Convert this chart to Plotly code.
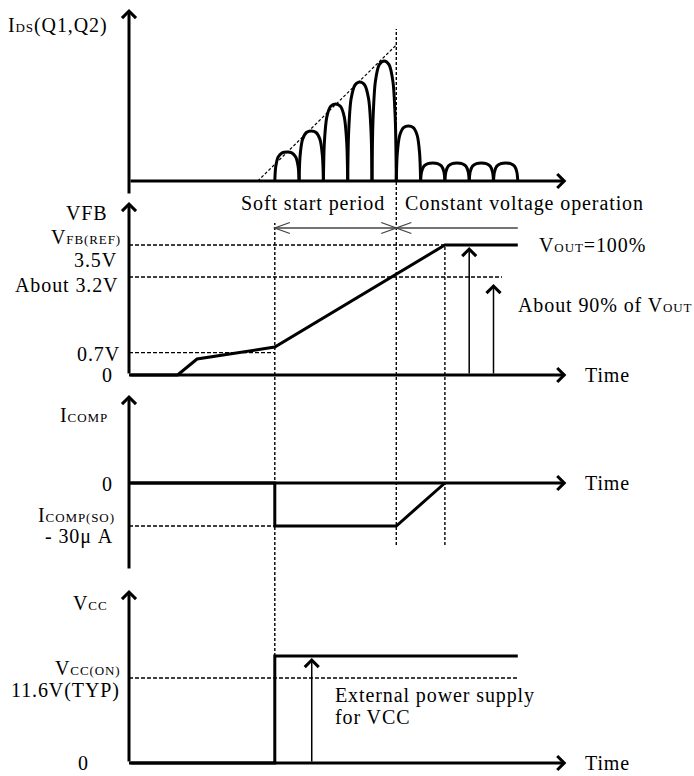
import plotly.graph_objects as go

# ---------------- data (schematic units: time in switching periods, signal levels in arbitrary units)
T_END = 18            # end of time axes (arrow tip)
T_SS_START = 6        # soft start begins (VCC reaches VCC(ON))
T_SS_END = 11         # soft start ends
T_CV = 13             # VFB reaches VFB(REF)
T_LINE_END = 16       # end of drawn waveforms

# I_DS (Q1,Q2) pulses
hump_start = [6, 7, 8, 9, 10, 11, 12, 13, 14, 15]
hump_peak = [2.9, 5.0, 7.7, 9.9, 12.0, 5.5, 1.8, 1.8, 1.8, 1.8]
hump_width = 1.0
hump_profile_x = [0, 0.04, 0.14, 0.3, 0.5, 0.7, 0.86, 0.96, 1]
hump_profile_y = [0, 0.5, 0.83, 0.97, 1, 0.97, 0.83, 0.5, 0]
env_t = [5.3, 11.0]
env_v = [0, 13.6]

# VFB
vfb_t = [0, 2.0, 2.8, 6.0, 13.0, 16.0]
vfb_v = [0, 0, 1.6, 2.8, 13.0, 13.0]
vfb_ref = 13.0
vfb_32 = 9.8
vfb_07 = 2.23
vout100_t, vout100_v = 14.0, 12.8
vout90_t, vout90_v = 15.0, 9.1
ss_arrow_v = 14.7

# ICOMP
icomp_t = [0, 6, 6, 11, 13]
icomp_v = [0, 0, -4.3, -4.3, 0]
icomp_so = -4.3

# VCC
vcc_t = [0, 6, 6, 16]
vcc_v = [0, 0, 10.7, 10.7]
vcc_on = 8.5
ext_t, ext_v = 7.52, 10.5

FONT = "Liberation Serif"
FS = 20
SUB = 13
LS = "letter-spacing:0.9px"


def txt(*parts):
    out = []
    for p in parts:
        if isinstance(p, tuple):
            out.append("<span style='%s;font-size:%dpx'>%s</span>" % (LS, SUB, p[0]))
        else:
            out.append("<span style='%s'>%s</span>" % (LS, p))
    return "".join(out)


fig = go.Figure()

# y-axis ranges/domains for 4 stacked panels
panels = {
    "y": dict(range=[-1.4, 18.1], domain=[0.748711, 1.0]),
    "y2": dict(range=[-1.5, 18.0], domain=[0.497423, 0.748711]),
    "y3": dict(range=[-9.7, 9.3], domain=[0.252577, 0.497423]),
    "y4": dict(range=[-1.3, 18.3], domain=[0.0, 0.252577]),
}

BLK = "black"
thick = dict(color=BLK, width=3)

# ---------------- IDS pulses
hx, hy = [], []
for s, p in zip(hump_start, hump_peak):
    hx += [s + f * hump_width for f in hump_profile_x] + [None]
    hy += [p * f for f in hump_profile_y] + [None]
fig.add_trace(go.Scatter(x=hx, y=hy, mode="lines", yaxis="y",
                         line=dict(color=BLK, width=3, shape="spline", smoothing=0.8),
                         hoverinfo="skip", showlegend=False))
fig.add_trace(go.Scatter(x=env_t, y=env_v, mode="lines", yaxis="y",
                         line=dict(color=BLK, width=1.2, dash="3px,2px"), showlegend=False))

# ---------------- VFB
fig.add_trace(go.Scatter(x=vfb_t, y=vfb_v, mode="lines", yaxis="y2", line=thick, showlegend=False))
# ---------------- ICOMP
fig.add_trace(go.Scatter(x=icomp_t, y=icomp_v, mode="lines", yaxis="y3", line=thick, showlegend=False))
# ---------------- VCC
fig.add_trace(go.Scatter(x=vcc_t, y=vcc_v, mode="lines", yaxis="y4", line=thick, showlegend=False))

shapes = []


def hdash(yref, level, t1, t0=0):
    shapes.append(dict(type="line", xref="x", yref=yref, x0=t0, x1=t1, y0=level, y1=level,
                       line=dict(color=BLK, width=1.3, dash="4px,2px"), layer="below"))


def vdot(yref, t, v0, v1):
    shapes.append(dict(type="line", xref="x", yref=yref, x0=t, x1=t, y0=v0, y1=v1,
                       line=dict(color=BLK, width=1.4, dash="3px,2px"), layer="below"))


# dashed reference levels
hdash("y2", vfb_ref, T_CV)
hdash("y2", vfb_32, 15.35)
hdash("y2", vfb_07, T_SS_START)
hdash("y3", icomp_so, T_SS_START)
hdash("y4", vcc_on, T_LINE_END)

# vertical dotted timing lines
vdot("y", T_SS_END, panels["y"]["range"][0], 15.2)
vdot("y2", T_SS_END, panels["y2"]["range"][0], panels["y2"]["range"][1])
vdot("y3", T_SS_END, -6.2, panels["y3"]["range"][1])
vdot("y2", T_SS_START, panels["y2"]["range"][0], 15.2)
vdot("y3", T_SS_START, panels["y3"]["range"][0], panels["y3"]["range"][1])
vdot("y4", T_SS_START, vcc_v[2], panels["y4"]["range"][1])
vdot("y2", T_CV, panels["y2"]["range"][0], vfb_ref)
vdot("y3", T_CV, -6.2, panels["y3"]["range"][1])

# soft-start period bar with open line arrowheads
GRY = "#444"
shapes.append(dict(type="line", xref="x", yref="y2", x0=T_SS_START, x1=T_LINE_END,
                   y0=ss_arrow_v, y1=ss_arrow_v, line=dict(color=GRY, width=1.3)))
HEAD_DT, HEAD_DV = 0.62, 0.55   # arrowhead arm extent (time units, level units)


def chevron(t, v, direction):
    # direction -1: points left (arms to the right), +1: points right
    d = -direction
    shapes.append(dict(type="path", xref="x", yref="y2",
                       path="M %f,%f L %f,%f L %f,%f" % (t + d * HEAD_DT, v + HEAD_DV, t, v,
                                                        t + d * HEAD_DT, v - HEAD_DV),
                       line=dict(color=GRY, width=1.3)))


chevron(T_SS_START, ss_arrow_v, -1)
chevron(T_SS_END, ss_arrow_v, +1)
chevron(T_SS_END, ss_arrow_v, -1)

ann = []


def arrow(yref, x, y, ax, ay, width=3, size=0.9, head=4, color=BLK):
    ann.append(dict(x=x, y=y, ax=ax, ay=ay, xref="x", yref=yref, axref="x", ayref=yref,
                    text="", showarrow=True, arrowhead=head, arrowwidth=width, arrowsize=size,
                    arrowcolor=color, standoff=0, startstandoff=0))


# axes with arrows
arrow("y", 0, 17.2, 0, panels["y"]["range"][0] + 0.0)
arrow("y", T_END, 0, 0, 0)
arrow("y2", 0, 17.3, 0, 0)
arrow("y2", T_END, 0, 0, 0)
arrow("y3", 0, 8.8, 0, -8.7)
arrow("y3", T_END, 0, 0, 0)
arrow("y4", 0, 17.3, 0, 0)
arrow("y4", T_END, 0, 0, 0)

# thin indicator arrows
arrow("y2", vout100_t, vout100_v, vout100_t, 0, width=1.5, size=1.8)
arrow("y2", vout90_t, vout90_v, vout90_t, 0, width=1.5, size=1.8)
arrow("y4", ext_t, ext_v, ext_t, 0, width=1.5, size=1.8)


def label(yref, x, y, text, xanchor="right", xshift=0, yshift=0):
    ann.append(dict(x=x, y=y, xref="x", yref=yref, text=text, showarrow=False,
                    xanchor=xanchor, yanchor="middle", xshift=xshift, yshift=yshift,
                    font=dict(family=FONT, size=FS, color=BLK), align="left"))


# y-axis labels
label("y", 0, 15.6, txt("I", ("DS",), "(Q1,Q2)"), xshift=-19)
label("y2", 0, 16.2, txt("VFB"), xshift=-19)
label("y2", 0, vfb_ref, txt("V", ("FB(REF)",)), xshift=-6, yshift=8)
label("y2", 0, vfb_ref, txt("3.5V"), xshift=-10, yshift=-15)
label("y2", 0, vfb_32, txt("About 3.2V"), xshift=-9, yshift=-8)
label("y2", 0, vfb_07, txt("0.7V"), xshift=-7, yshift=-1)
label("y2", 0, 0, txt("0"), xshift=-14)
label("y3", 0, 6.8, txt("I", ("COMP",)), xshift=-19)
label("y3", 0, 0, txt("0"), xshift=-14, yshift=-1)
label("y3", 0, icomp_so, txt("I", ("COMP(SO)",)), xshift=-12, yshift=11)
label("y3", 0, icomp_so, txt("- 30μ A"), xshift=-14, yshift=-11)
label("y4", 0, 16.0, txt("V", ("CC",)), xshift=-19)
label("y4", 0, vcc_on, txt("V", ("CC(ON)",)), xshift=-6, yshift=10)
label("y4", 0, vcc_on, txt("11.6V(TYP)"), xshift=-7, yshift=-12)
label("y4", 0, 0, txt("0"), xshift=-38)

# right-side labels
for yr in ["y2", "y3", "y4"]:
    label(yr, T_END, 0, txt("Time"), xanchor="left", xshift=17)
label("y2", T_LINE_END, vfb_ref, txt("V", ("OUT",), "=100%"), xanchor="left", xshift=19)
label("y2", T_LINE_END, 7.0, txt("About 90% of V", ("OUT",)), xanchor="left", xshift=-2)
label("y2", T_SS_END, 17.2, txt("Soft start period"), xanchor="right", xshift=-9)
label("y2", T_SS_END, 17.2, txt("Constant voltage operation"), xanchor="left", xshift=7)
label("y4", 8.4, 6.8, txt("External power supply"), xanchor="left")
label("y4", 8.4, 4.6, txt("for VCC"), xanchor="left")

ax_common = dict(visible=False, fixedrange=True)
layout = dict(
    width=694, height=776, autosize=False,
    margin=dict(l=0, r=0, t=0, b=0, pad=0),
    paper_bgcolor="white", plot_bgcolor="white",
    showlegend=False,
    xaxis=dict(range=[-5.3086, 23.2510], domain=[0, 1], **ax_common),
    shapes=shapes, annotations=ann,
)
for k, v in panels.items():
    name = "yaxis" if k == "y" else "yaxis" + k[1:]
    d = dict(range=v["range"], domain=v["domain"], anchor="x", **ax_common)
    layout[name] = d
fig.update_layout(**layout)
fig.write_html("out.html", config={"displayModeBar": False},
               post_script="document.body.style.margin='0px';document.body.style.overflow='hidden';")
